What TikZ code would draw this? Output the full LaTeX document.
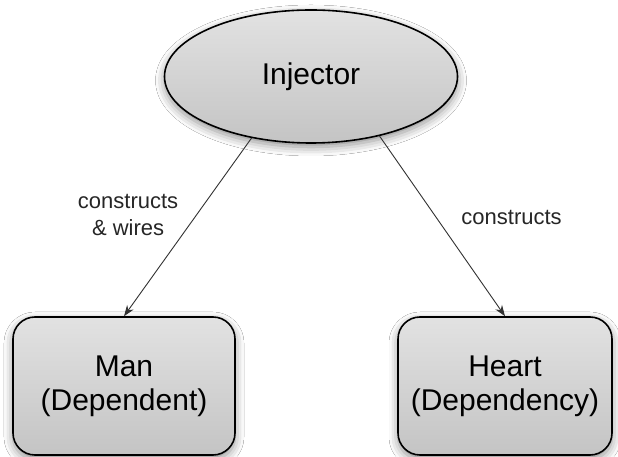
\documentclass[tikz,border=0pt]{standalone}
\usepackage{fontspec}
\setmainfont{Liberation Sans}
\usetikzlibrary{shapes.geometric,shadows.blur,arrows.meta}
\definecolor{fillhi}{RGB}{226,226,226}
\definecolor{filllo}{RGB}{196,196,196}
\definecolor{wire}{RGB}{50,50,50}
\tikzset{
  boxfill/.style={draw=black, line width=1.6pt, top color=fillhi, bottom color=filllo,
    blur shadow={shadow xshift=0pt, shadow yshift=-4pt, shadow blur radius=9pt, shadow opacity=45}},
  component/.style={boxfill, rounded corners=22pt, align=center,
    font=\fontsize{30}{34}\selectfont, inner sep=0pt},
  injector/.style={boxfill, ellipse, inner sep=0pt, font=\fontsize{30}{34}\selectfont},
  wirearrow/.style={draw=wire, line width=0.9pt, -{Stealth[length=11pt,width=8pt]}},
  wirelabel/.style={inner sep=0pt, align=center, font=\fontsize{22}{27}\selectfont, text=black!85}
}
\begin{document}
\begin{tikzpicture}[x=1pt,y=1pt]
  \useasboundingbox (0,0) rectangle (618,457);
  \fill[white] (0,0) rectangle (618,457);

  % the container and the two objects it builds
  \node[injector, minimum width=293pt, minimum height=133pt] (inj) at (311,380.5) {Injector};
  \node[component, minimum width=222pt, minimum height=138pt] (man) at (124,71) {Man\\(Dependent)};
  \node[component, minimum width=214pt, minimum height=138pt] (heart) at (505,71) {Heart\\(Dependency)};

  % what the injector does to each
  \draw[wirearrow] (inj.226) -- node[wirelabel, pos=0.43, left=18pt] {constructs\\\& wires} (man.north);
  \draw[wirearrow] (inj.319.4) -- node[wirelabel, pos=0.45, right=25pt] {constructs} (heart.north);
\end{tikzpicture}
\end{document}
